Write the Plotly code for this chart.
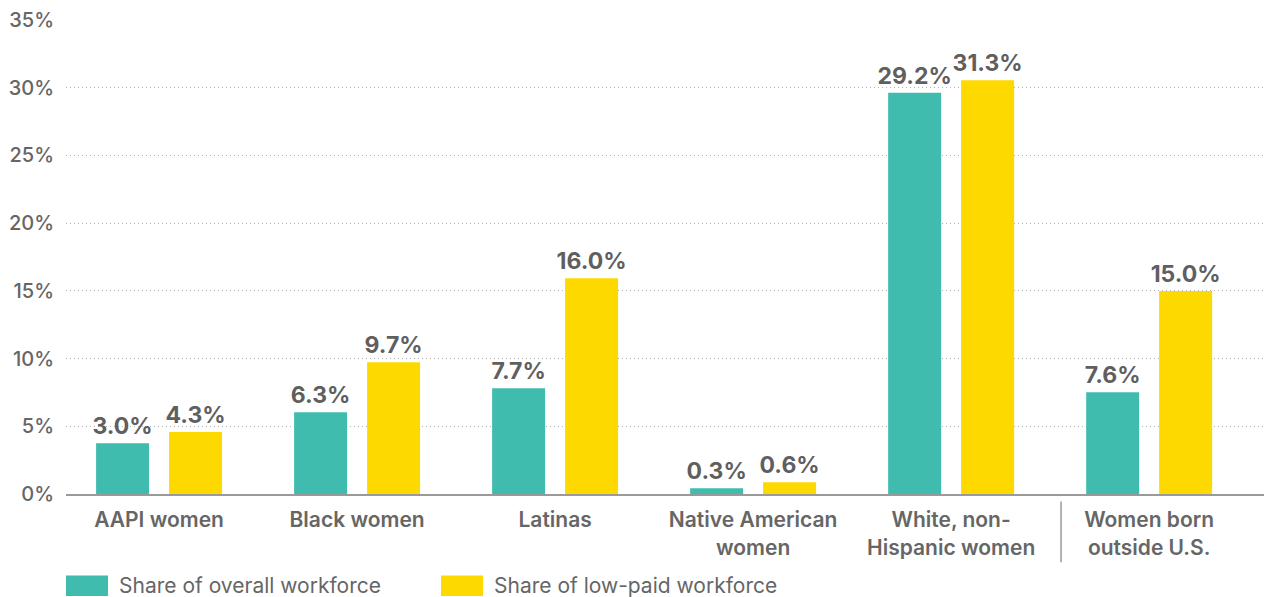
import plotly.graph_objects as go

categories = ["AAPI women", "Black women", "Latinas", "Native American<br>women",
              "White, non-<br>Hispanic women", "Women born<br>outside U.S."]
overall_heights = [3.75, 6.03, 7.8, 0.43, 29.62, 7.52]
lowpaid_heights = [4.57, 9.72, 15.93, 0.87, 30.56, 14.99]
overall_labels = ["3.0%", "6.3%", "7.7%", "0.3%", "29.2%", "7.6%"]
lowpaid_labels = ["4.3%", "9.7%", "16.0%", "0.6%", "31.3%", "15.0%"]
series_names = ["Share of overall workforce", "Share of low-paid workforce"]
tick_vals = [0, 5, 10, 15, 20, 25, 30, 35]
tick_text = ["0%", "5%", "10%", "15%", "20%", "25%", "30%", "35%"]

TEAL = "#3fbcad"
YELLOW = "#fdd900"
GRAY = "#666666"
FONT = "Inter"

x_idx = list(range(len(categories)))

fig = go.Figure()
for name, h, lab, col in [(series_names[0], overall_heights, overall_labels, TEAL),
                          (series_names[1], lowpaid_heights, lowpaid_labels, YELLOW)]:
    fig.add_trace(go.Bar(
        x=x_idx, y=h, name=name, marker=dict(color=col, line=dict(width=0)),
        text=lab, textposition="outside", cliponaxis=False, constraintext="none",
        textfont=dict(family=FONT, size=23, color="#5f5f5f", weight=700),
        showlegend=False, hoverinfo="skip",
    ))

fig.update_layout(
    width=1264, height=597,
    margin=dict(l=66, r=0, t=20, b=103, autoexpand=False),
    paper_bgcolor="white", plot_bgcolor="white",
    barmode="group", bargap=0.263, bargroupgap=0.274,
    font=dict(family=FONT, color=GRAY),
    xaxis=dict(
        range=[-0.47, 5.58], tickmode="array", tickvals=x_idx, ticktext=categories,
        showgrid=False, showline=True, linecolor="#9a9a9a", linewidth=2,
        ticks="", tickfont=dict(family=FONT, size=21, color=GRAY, weight=600),
        ticklabelstandoff=6, automargin=False, fixedrange=True,
    ),
    yaxis=dict(
        range=[0, 35], tickmode="array", tickvals=tick_vals, ticktext=tick_text,
        showgrid=True, gridcolor="#b0b0b0", griddash="1px,3px", gridwidth=1,
        zeroline=False, showline=False, ticks="",
        tickfont=dict(family=FONT, size=20, color=GRAY, weight=500),
        ticklabelstandoff=11, automargin=False, fixedrange=True,
    ),
)

# separator before last group
fig.add_shape(type="line", xref="x", yref="paper", x0=4.555, x1=4.555,
              y0=-0.016, y1=-0.144, line=dict(color="#9a9a9a", width=1.5))

# custom legend
legend_items = [(series_names[0], TEAL, 0.0), (series_names[1], YELLOW, 375 / 1198)]
for name, col, xo in legend_items:
    fig.add_shape(type="rect", xref="paper", yref="paper",
                  x0=xo, x1=xo + 42 / 1198, y0=-0.172, y1=-0.215,
                  fillcolor=col, line=dict(width=0))
    fig.add_annotation(xref="paper", yref="paper", x=xo + 51 / 1198, y=-0.193,
                       text=name, showarrow=False, xanchor="left", yanchor="middle",
                       font=dict(family=FONT, size=21, color=GRAY))

fig.write_html("out.html", config={"displayModeBar": False},
               post_script="document.body.style.margin='0';document.body.style.overflow='hidden';")
